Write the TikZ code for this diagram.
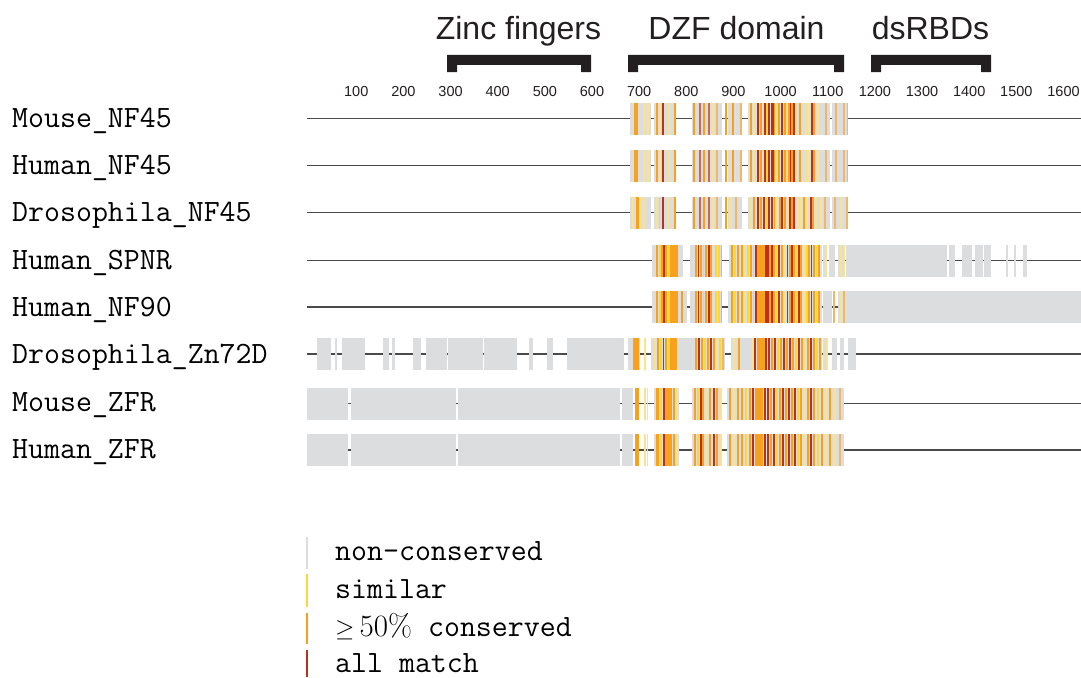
\documentclass[tikz,border=0pt]{standalone}
\usepackage{fontspec}
\newfontfamily\headfont{Liberation Sans}
\definecolor{cgy}{HTML}{DCDDDF}
\definecolor{cyl}{HTML}{FAE38C}
\definecolor{cyb}{HTML}{FFD63A}
\definecolor{cor}{HTML}{F8A11C}
\definecolor{col}{HTML}{F3B566}
\definecolor{crd}{HTML}{B8321F}
\definecolor{crl}{HTML}{C66A5A}
\definecolor{cline}{HTML}{4A4A4A}
\definecolor{cbrk}{HTML}{231F20}
\newcommand\grayblocks[2]{\foreach \a/\b in #2 {\fill[cgy] (\a,#1-16) rectangle (\b,#1+16);}}
\newcommand\stripeset[2]{\foreach \xx/\ww/\cc in #2 {\fill[\cc] (\xx,#1-16) rectangle ({\xx+\ww},#1+16);}}
\def\nfAblocks{630/651,654/676,692/722,728/742,748/830,832/848}
\def\nfAstripes{634/4/cor,643/1.5/cyl,647/1.5/cyl,656/1.5/cor,659/1.5/cyl,662/1.5/crd,668/1.5/cyl,674/1.5/cor,693/1.5/cor,699/1.5/crl,703/1.5/cor,708/1.5/crl,712/1.5/cyl,716/1.5/col,725/1.5/cor,732/2/cor,734.5/1.5/cyl,740/1.5/col,750/1.5/cor,753/1.5/cyl,757/2/crd,760/1.5/cor,764/1.5/crd,766/1.5/cyb,768/2/crd,771/2.5/crd,773.5/1.5/cor,775.5/1.5/cyl,778/1.5/cor,781/1.5/crd,784/1.5/cor,786/1.5/cyl,788/1.5/cor,789.5/1.5/crd,791/1.5/cor,793/2/crd,796/1.5/cyl,799/1.5/cor,805/1.5/cyl,808/1.5/cyl,811/1.5/crd,813/1.5/cor,817/1.5/cyl,825/1.5/col,835/1.5/col,843/1.5/col,846.5/1.5/col}
\def\nfCstripes{632/1.5/cyl,636/2.5/cor,639/1.5/cyl,643/2/cyl,656/1.5/cyl,658.5/1.5/cyb,662/1.5/crd,667/1.5/cyl,674/1.5/cor,693/1.5/cor,699/1.5/crl,703/1.5/cor,708/1.5/crl,712/1.5/cyl,716/1.5/col,725/1.5/cor,730/1.5/cyl,735/1.5/col,750/1.5/cyl,753/1.5/cor,757/2/crd,760/1.5/cor,763/1.5/crd,766/1.5/cyb,768/2/crd,771/2/crd,773.5/1.5/cor,776/1.5/cyl,779/1.5/cor,781/1.5/crd,784/1.5/cor,787/1.5/cyl,789/1.5/crd,791/1.5/cor,793/2/crd,797/1.5/cyl,800/1.5/cyl,803/1.5/cor,806/1.5/cyl,810/1.5/crd,812/1.5/cor,815/1.5/cyl,820/1.5/cyl,824/1.5/col,834/1.5/col,840/1.5/cyl,846/1.5/col}
\def\spblocks{652/683,690/722,729/822,823/827,829/835,838/845,845.5/947,949/955,962/972,975/983,984/991,1006/1007.5,1014/1016,1023/1027}
\def\spcore{656/2/cor,659/1.5/cyb,661/1.5/cor,663/1.5/crd,665/2/cor,668/1.5/cyb,670/8/cor,695/2/cor,697.5/1.5/crd,700/2/cor,702.5/1.5/cyb,705/2/cor,708/1.5/crd,710/2/cor,712.5/1.5/cyl,715/2/cyb,718/2/cyb,720.5/1.5/col,731/2/cor,734/1.5/cyb,737/2/cor,741/2/cor,743.5/1.5/cyl,747/1.5/cyb,750/2/cor,752.5/1.5/cyb,755/2/crd,757/8/cor,765/1.5/crd,767/2/crd,769/2/cor,771/1.5/crd,773/2/cor,775.5/1.5/cyb,778/1.5/crd,781/2/cor,784/1.5/cyl,786.5/1.5/crd,788.5/2/cor,791/1.5/crd,793/2/cor,795.5/1.5/cyb,798/1.5/crd,800/2/cor,803/1.5/cyl,806/1.5/cyb,808/2/cor,810.5/1.5/crd,813/2/cor,815.5/1.5/cyb,818/2/cor,820.5/1.5/cyl}
\def\spextra{825/1.5/cyl,840/1.5/cyl,843/1.5/cyl}
\def\nfNblocks{652/687,690/722,728/822,823/832,838/843,843.5/1081}
\def\nfNextra{681/2/cor,833/1.5/col,840/1.5/cyl,843/1.5/col}
\def\znblocks{317/331,335/337,342/365,383/389,392/395,413/421,426/447,448/483,484/517,529/533,547/553,567/624,628/640,651/725,731/822,823/828,832/837,840/844,848/856}
\def\znstripes{633/6/cor,644/1.5/cyl,654/1.5/cyl,657/2/cor,660/1.5/cyb,662.5/1.5/crd,665/2/cor,668/1.5/cyb,670/7/cor,695/2/cor,698/1.5/crd,701/2/cor,704/1.5/cyb,707/2/cor,710/1.5/crd,713/2/cor,716/1.5/cyl,719/2/cyb,722/1.5/col,733/1.5/cyl,738/2/cor,752/1.5/cyl,754/2/crd,757/8/cor,765/1.5/crd,768/2/crd,771/2/cor,774/1.5/crd,777/1.5/cyb,780/2/cor,783/1.5/crd,786/2/cor,789/1.5/crd,792/2/cor,795/1.5/cyb,798/1.5/crd,801/2/cor,804/1.5/cyl,807/2/cor,810/1.5/crd,813/2/cor,816/1.5/cyb,819/2/cor,826/1.5/cyl}
\def\zfblocks{307/348,351/456,458/620,622/633,654/679,692/722,727/844}
\def\zfstripes{635/4/cor,644/1.5/cyl,646.5/1.5/cyl,656/3/cor,660/1.5/cyb,663/1.5/crd,665/7/cor,673/2/cor,676/1.5/cyl,694/2/cor,697/1.5/cyb,700/1.5/crd,702/2/cor,706/1.5/cyl,709/2/cor,713/1.5/crd,716/2/cor,720/1.5/cyl,729/2/cor,733/1.5/cyl,737/2/cor,741/2/cor,745/1.5/cyb,749/2/cor,752/1.5/crd,755/8/cor,764/1.5/crd,767/2/crd,770/2/cor,773/1.5/crd,776/1.5/cyb,779/2/cor,782/1.5/crd,785/2/cor,788/1.5/crd,791/2/cor,794/1.5/crd,797/1.5/cyb,800/2/cor,804/1.5/cyl,807/2/cor,810/1.5/crd,813/2/cor,817/1.5/cyb,821/2/cor,825/1.5/cyl,829/2/cor,834/1.5/cyl,839/2/col}
\tikzset{
  rowlab/.style={anchor=base west,inner sep=0pt,font=\fontsize{31}{31}\selectfont\ttfamily\addfontfeatures{FakeBold=0.35}},
  leglab/.style={anchor=base west,inner sep=0pt,font=\fontsize{31}{31}\selectfont\ttfamily\addfontfeatures{FakeBold=0.35}},
  headlab/.style={anchor=base,inner sep=0pt,font=\fontsize{32}{32}\selectfont\headfont,text=cbrk},
  ticklab/.style={anchor=base,inner sep=0pt,font=\fontsize{14.5}{16}\selectfont\headfont,text=cbrk},
  backbone/.style={draw=cline,line width=1.3pt},
  bracket/.style={fill=cbrk}
}
\begin{document}
\begin{tikzpicture}[x=1pt,y=-1pt]
\useasboundingbox (0,0) rectangle (1081,677);
% headings
\node[headlab] (h1) at (518.5,40) {Zinc fingers};
\node[headlab] (h2) at (736.5,40) {DZF domain};
\node[headlab] (h3) at (930.5,40) {dsRBDs};
% brackets
\fill[bracket] (447,55) -- (591,55) -- (591,72) -- (581,72) -- (581,65) -- (457,65) -- (457,72) -- (447,72) -- cycle;
\fill[bracket] (628,55) -- (844,55) -- (844,72) -- (834,72) -- (834,65) -- (638,65) -- (638,72) -- (628,72) -- cycle;
\fill[bracket] (871,55) -- (991,55) -- (991,72) -- (981,72) -- (981,65) -- (881,65) -- (881,72) -- (871,72) -- cycle;
% ticks
\foreach \n [count=\i] in {100,200,...,1600} \node[ticklab] (k\i) at ({309.1+0.4715*\n},96) {\n};
% backbones
\foreach \yy [count=\i] in {118.5,165.5,212.5,260.5,307,354,403.5,450} {
  \coordinate (bs\i) at (307,\yy);
  \coordinate (be\i) at (1081,\yy);
  \draw[backbone] (bs\i) -- (be\i);
}
% rows 1-3
\grayblocks{118.5}{\nfAblocks}\stripeset{118.5}{\nfAstripes}
\grayblocks{165.5}{\nfAblocks}\stripeset{165.5}{\nfAstripes}
\grayblocks{212.5}{\nfAblocks}\stripeset{212.5}{\nfCstripes}
% SPNR
\grayblocks{260.5}{\spblocks}\stripeset{260.5}{\spcore}\stripeset{260.5}{\spextra}
% NF90
\grayblocks{307}{\nfNblocks}\stripeset{307}{\spcore}\stripeset{307}{\nfNextra}
% Zn72D
\grayblocks{354}{\znblocks}\stripeset{354}{\znstripes}
% ZFR
\grayblocks{403.5}{\zfblocks}\stripeset{403.5}{\zfstripes}
\grayblocks{450}{\zfblocks}\stripeset{450}{\zfstripes}
% row labels
\node[rowlab] (r1) at (12,127) {Mouse\_NF45};
\node[rowlab] (r2) at (12,174) {Human\_NF45};
\node[rowlab] (r3) at (12,221) {Drosophila\_NF45};
\node[rowlab] (r4) at (12,269) {Human\_SPNR};
\node[rowlab] (r5) at (12,316) {Human\_NF90};
\node[rowlab] (r6) at (12,363) {Drosophila\_Zn72D};
\node[rowlab] (r7) at (12,411) {Mouse\_ZFR};
\node[rowlab] (r8) at (12,458) {Human\_ZFR};
% legend
\fill[cgy] (306,537) rectangle (308,569);
\fill[cyb] (306,574) rectangle (308,607);
\fill[cor] (306,613) rectangle (308,644);
\fill[crd] (306,650) rectangle (308,677);
\node[leglab] (g1) at (335,560) {non-conserved};
\node[leglab] (g2) at (335,598) {similar};
\node[leglab] (g3) at (335,636) {{\rmfamily$\geq$\,50\%} conserved};
\node[leglab] (g4) at (335,672) {all match};
\end{tikzpicture}
\end{document}
